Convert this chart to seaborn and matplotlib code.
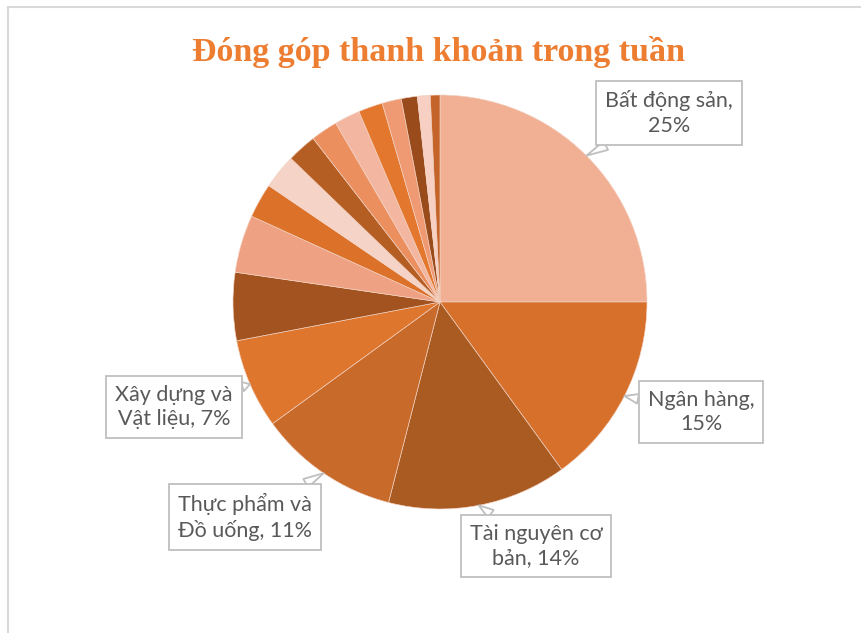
import numpy as np
import matplotlib
matplotlib.use("Agg")
import matplotlib.pyplot as plt
import seaborn as sns
from matplotlib.patches import Rectangle

# dữ liệu: tỷ trọng thanh khoản theo ngành (%)
sectors = ["Bất động sản", "Ngân hàng", "Tài nguyên cơ bản", "Thực phẩm và Đồ uống",
           "Xây dựng và Vật liệu", "Khác 1", "Khác 2", "Khác 3", "Khác 4", "Khác 5",
           "Khác 6", "Khác 7", "Khác 8", "Khác 9", "Khác 10", "Khác 11", "Khác 12"]
shares = [25, 15, 14, 11, 7, 5.3, 4.5, 2.7, 2.7, 2.3, 2.1, 2.0, 1.9, 1.5, 1.25, 1.0, 0.75]
# nhãn hiển thị (chỉ 5 ngành lớn)
label_text = ["Bất động sản,\n25%", "Ngân hàng,\n15%", "Tài nguyên cơ\nbản, 14%",
              "Thực phẩm và\nĐồ uống, 11%", "Xây dựng và\nVật liệu, 7%"]
colors = ["#F1AF94", "#D6702B", "#AA5B22", "#C86A2A", "#DE762E", "#A2531F", "#EEA283",
          "#DC7129", "#F6D3C7", "#B55E23", "#EB8F5F", "#F3B6A0", "#E2772D", "#EF9A73",
          "#9A4B1B", "#F7D0C3", "#C4632A"]

sns.set_theme(style="white")
plt.rcParams['font.family'] = ['Lato', 'DejaVu Sans']

W, H = 861, 633
fig = plt.figure(figsize=(W / 100, H / 100), dpi=100)
fig.patch.set_facecolor("white")

# khung viền nhạt của vùng biểu đồ
fig.add_artist(Rectangle((8 / W, -0.1), 1.2, (H - 7) / H + 0.1, transform=fig.transFigure,
                         fill=False, edgecolor="#D9D9D9", lw=1.5))

cx, cy, r = 440, 302, 207
ax = fig.add_axes([(cx - r) / W, (H - cy - r) / H, 2 * r / W, 2 * r / H])
wedges, _ = ax.pie(shares, colors=colors, startangle=90, counterclock=False, radius=1,
                   wedgeprops=dict(edgecolor="#F3D3C4", linewidth=0.45))
ax.set_xlim(-1, 1)
ax.set_ylim(-1, 1)
ax.set_aspect("equal")
ax.axis("off")

# vị trí hộp nhãn (pixel) -> toạ độ dữ liệu
box_px = [(669, 113), (701, 412), (536, 546), (245, 517), (174, 407)]
for i, (txt, (px, py)) in enumerate(zip(label_text, box_px)):
    w = wedges[i]
    mid = np.deg2rad((w.theta1 + w.theta2) / 2)
    tip = (np.cos(mid), np.sin(mid))
    ax.annotate(txt, xy=tip, xytext=((px - cx) / r, (cy - py) / r),
                ha="center", va="center", fontsize=15.5, color="#595959",
                linespacing=1.3, annotation_clip=False,
                bbox=dict(boxstyle="square,pad=0.42", fc="white", ec="#BFBFBF", lw=1.3),
                arrowprops=dict(arrowstyle="wedge,tail_width=0.45", fc="white",
                                ec="#BFBFBF", lw=1.3, shrinkA=0, shrinkB=0))

fig.text(439 / W, 1 - 52 / H, "Đóng góp thanh khoản trong tuần", ha="center", va="center",
         fontsize=24.5, fontweight="bold", color="#ED7D31",
         family=["Liberation Serif", "DejaVu Serif"])

plt.savefig("out.png", dpi=100, facecolor="white")
